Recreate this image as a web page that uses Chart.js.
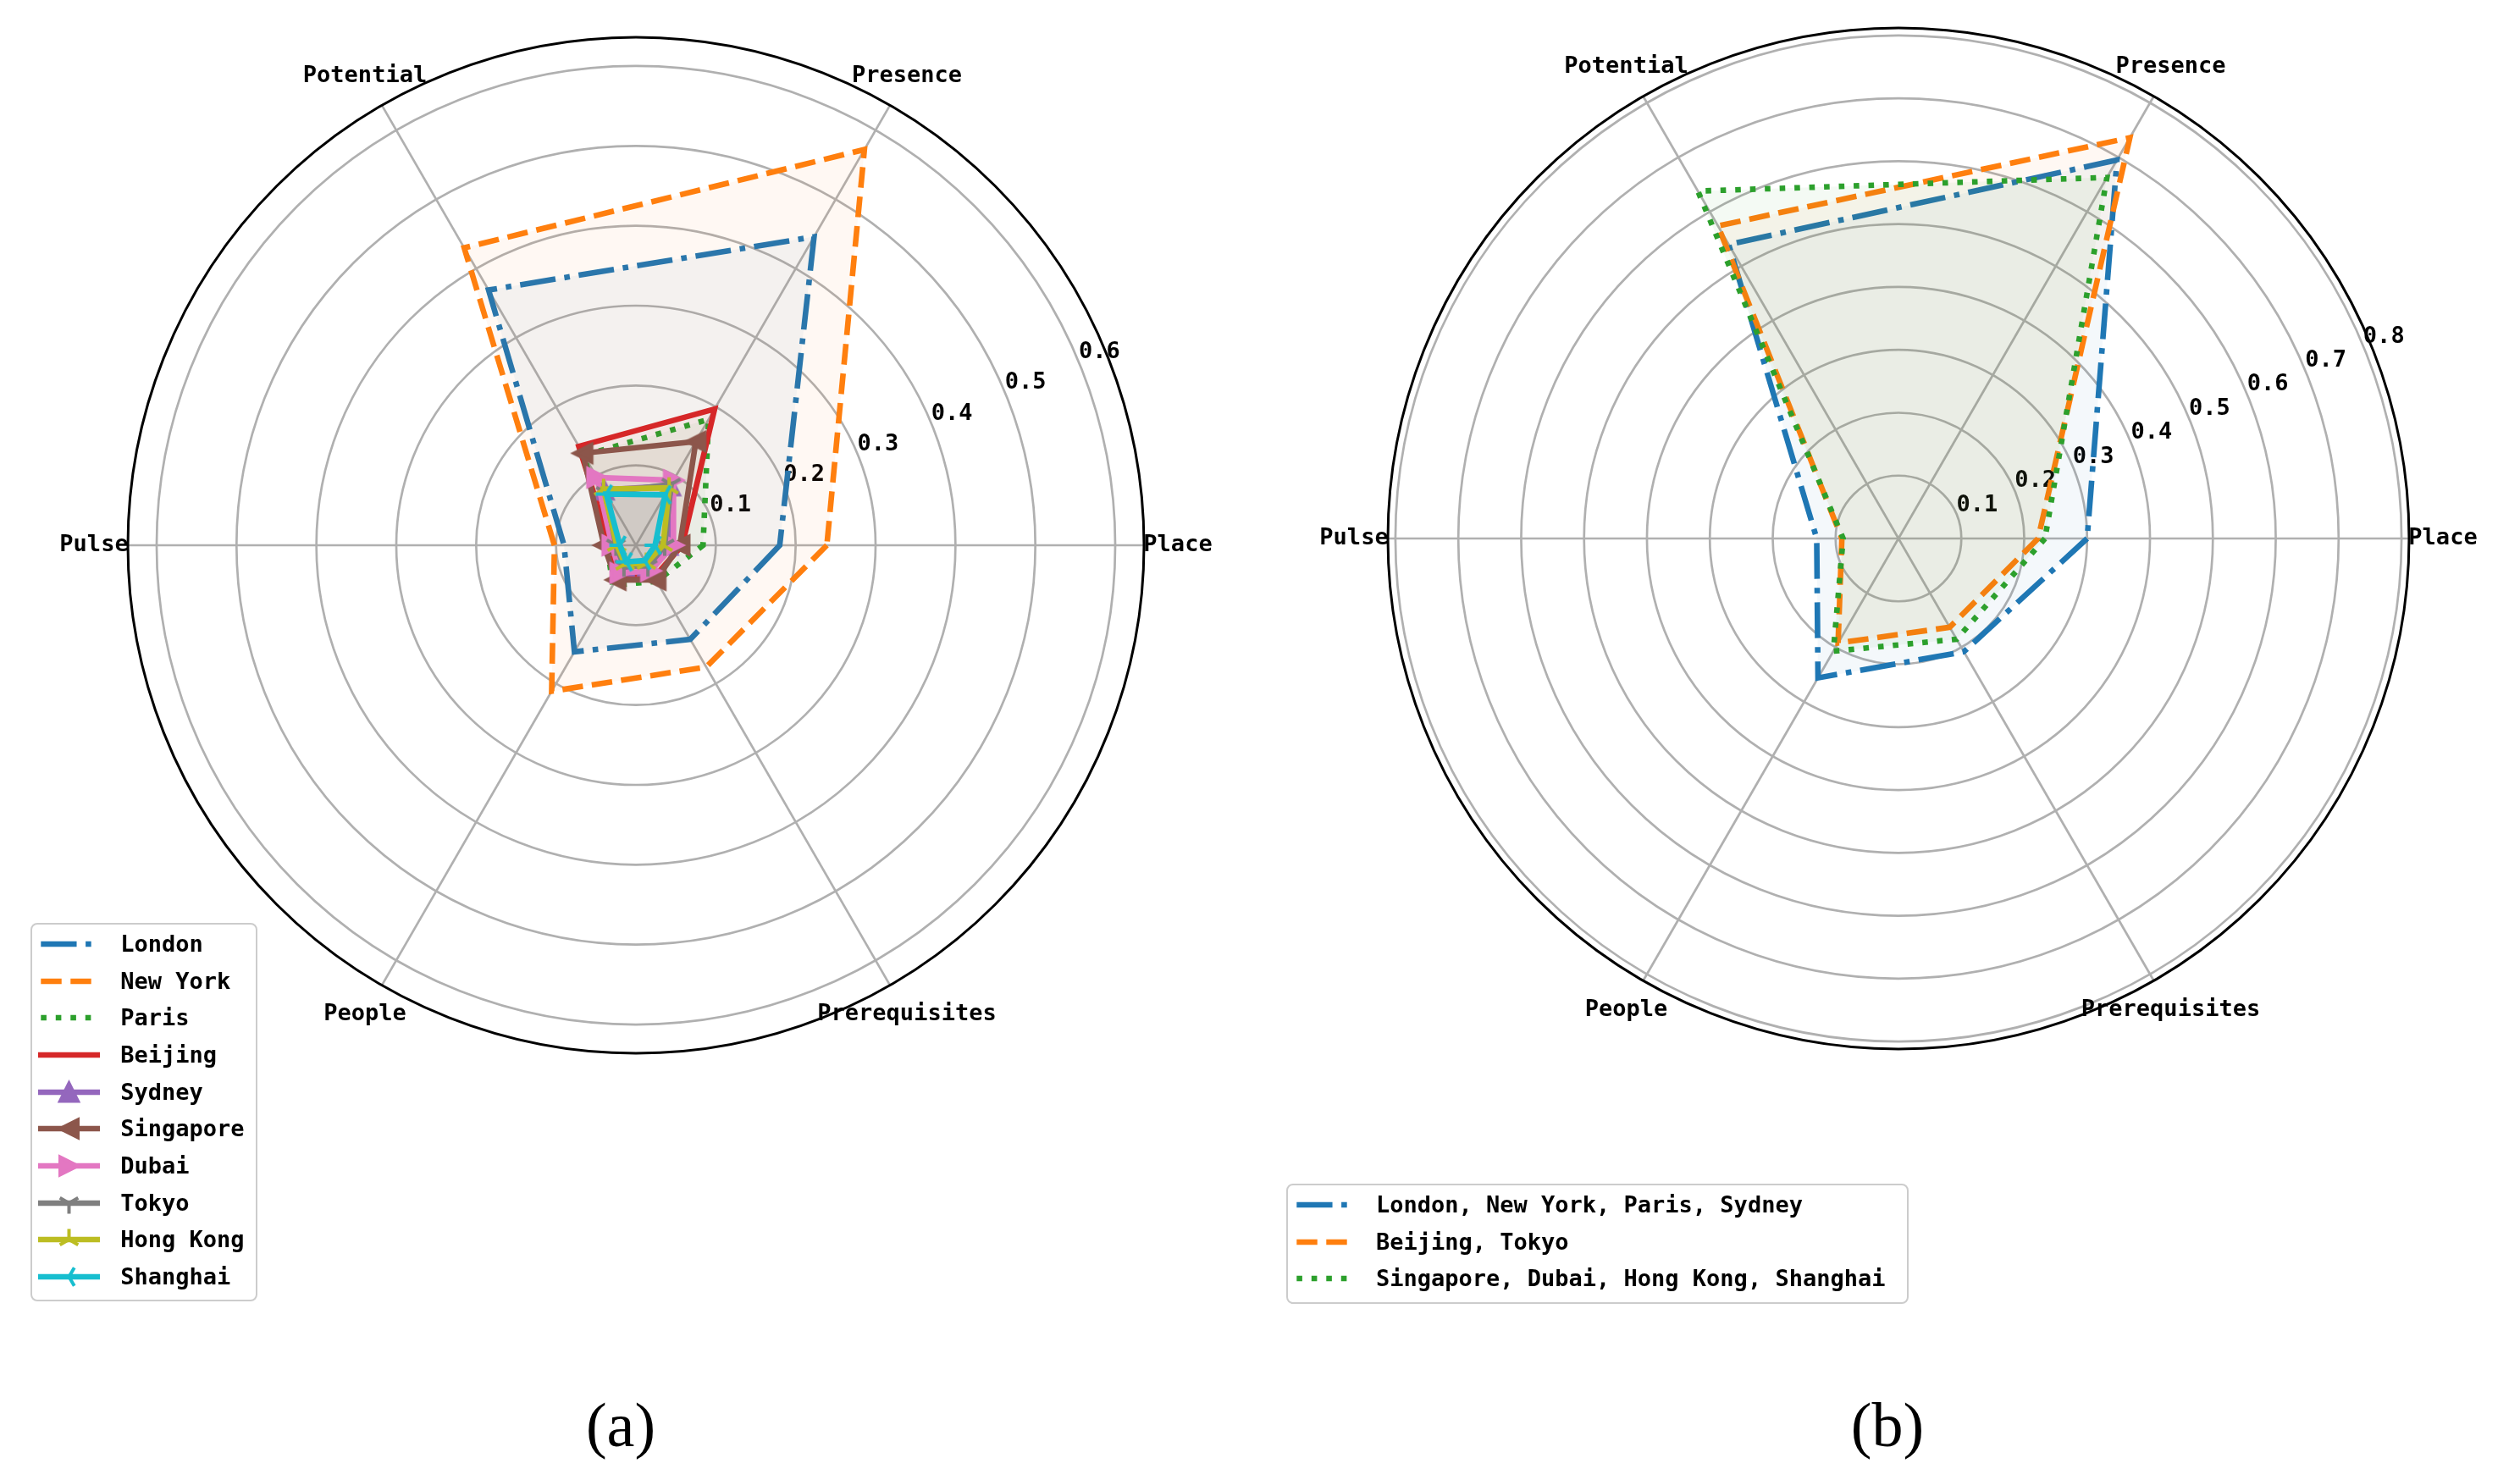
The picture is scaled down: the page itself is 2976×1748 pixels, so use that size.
<!DOCTYPE html>
<html>
<head>
<meta charset="utf-8">
<script src="https://cdn.jsdelivr.net/npm/chart.js@4.4.1/dist/chart.umd.min.js"></script>
<style>
  html, body { margin: 0; padding: 0; background: #fff; }
  #stage { position: relative; width: 2976px; height: 1748px; overflow: hidden; background: #fff; }
  #stage canvas.chart { position: absolute; }
  .legend { position: absolute; box-sizing: border-box; background: rgba(255,255,255,0.8);
            border: 2.7px solid #cccccc; border-radius: 8px; }
  .legend canvas { position: absolute; }
  .legend span { position: absolute; font-family: "DejaVu Sans Mono", monospace; font-size: 27px;
                 font-weight: bold; color: #000; line-height: 34px; white-space: pre; }
  .cap { position: absolute; font-family: "Liberation Serif", "DejaVu Serif", serif; font-size: 74px;
         color: #000; transform: translate(-50%, -50%); line-height: 1; }
</style>
</head>
<body>
<div id="stage">
  <canvas id="chartA" class="chart"></canvas>
  <canvas id="chartB" class="chart"></canvas>
  <div class="cap" style="left:733px; top:1683px;">(a)</div>
  <div class="cap" style="left:2229px; top:1683px;">(b)</div>
</div>
<script>
// ---------------- DATA ----------------
// axis order: Place, Presence, Potential, Pulse, People, Prerequisites
const categories = ['Place', 'Presence', 'Potential', 'Pulse', 'People', 'Prerequisites'];

// (a) individual cities
const citiesA = ['London', 'New York', 'Paris', 'Beijing', 'Sydney', 'Singapore', 'Dubai', 'Tokyo', 'Hong Kong', 'Shanghai'];
const london    = [0.180, 0.446, 0.369, 0.090, 0.154, 0.136];
const newYork   = [0.239, 0.572, 0.430, 0.102, 0.211, 0.176];
const paris     = [0.084, 0.182, 0.130, 0.036, 0.058, 0.052];
const beijing   = [0.058, 0.197, 0.143, 0.032, 0.046, 0.046];
const sydney    = [0.040, 0.086, 0.080, 0.026, 0.030, 0.030];
const singapore = [0.055, 0.150, 0.133, 0.040, 0.050, 0.050];
const dubai     = [0.047, 0.094, 0.098, 0.030, 0.040, 0.037];
const tokyo     = [0.036, 0.088, 0.076, 0.025, 0.030, 0.030];
const hongKong  = [0.034, 0.083, 0.081, 0.024, 0.027, 0.026];
const shanghai  = [0.024, 0.073, 0.074, 0.020, 0.024, 0.022];
const ticksA = [0.1, 0.2, 0.3, 0.4, 0.5, 0.6];
const maxA = 0.636;

// (b) city clusters
const groupsB = ['London, New York, Paris, Sydney', 'Beijing, Tokyo', 'Singapore, Dubai, Hong Kong, Shanghai'];
const group1 = [0.300, 0.695, 0.540, 0.130, 0.256, 0.208];
const group2 = [0.222, 0.736, 0.574, 0.090, 0.192, 0.163];
const group3 = [0.233, 0.663, 0.638, 0.088, 0.207, 0.185];
const ticksB = [0.1, 0.2, 0.3, 0.4, 0.5, 0.6, 0.7, 0.8];
const maxB = 0.812;

const seriesA = [london, newYork, paris, beijing, sydney, singapore, dubai, tokyo, hongKong, shanghai];
const seriesB = [group1, group2, group3];

// ---------------- STYLE ----------------
const LW = 6.6;
const DASHES = {
  dashdot: [6.4 * LW, 1.6 * LW, 1.0 * LW, 1.6 * LW],
  dashed: [3.7 * LW, 1.6 * LW],
  dotted: [1.0 * LW, 1.65 * LW],
  solid: []
};
const stylesA = [
  { color: '#1f77b4', dash: 'dashdot', marker: null },
  { color: '#ff7f0e', dash: 'dashed', marker: null },
  { color: '#2ca02c', dash: 'dotted', marker: null },
  { color: '#d62728', dash: 'solid', marker: null },
  { color: '#9467bd', dash: 'solid', marker: '^' },
  { color: '#8c564b', dash: 'solid', marker: '<' },
  { color: '#e377c2', dash: 'solid', marker: '>' },
  { color: '#7f7f7f', dash: 'solid', marker: '1' },
  { color: '#bcbd22', dash: 'solid', marker: '2' },
  { color: '#17becf', dash: 'solid', marker: '3' }
];
const stylesB = [
  { color: '#1f77b4', dash: 'dashdot', marker: null },
  { color: '#ff7f0e', dash: 'dashed', marker: null },
  { color: '#2ca02c', dash: 'dotted', marker: null }
];

function rgba(hex, a) {
  const n = parseInt(hex.slice(1), 16);
  return `rgba(${(n >> 16) & 255},${(n >> 8) & 255},${n & 255},${a})`;
}

function drawMarker(ctx, type, color, x, y, s) {
  ctx.save();
  ctx.fillStyle = color; ctx.strokeStyle = color; ctx.lineWidth = 4; ctx.lineJoin = 'miter';
  const h = s / 2;
  if (type === '^' || type === '<' || type === '>') {
    ctx.beginPath();
    if (type === '^') { ctx.moveTo(x, y - h); ctx.lineTo(x - h, y + h); ctx.lineTo(x + h, y + h); }
    if (type === '<') { ctx.moveTo(x - h, y); ctx.lineTo(x + h, y - h); ctx.lineTo(x + h, y + h); }
    if (type === '>') { ctx.moveTo(x + h, y); ctx.lineTo(x - h, y - h); ctx.lineTo(x - h, y + h); }
    ctx.closePath(); ctx.fill(); ctx.stroke();
  } else {
    const c = 0.866, sn = 0.5;
    let dirs = [];
    if (type === '1') dirs = [[0, 1], [c, -sn], [-c, -sn]];
    if (type === '2') dirs = [[0, -1], [c, sn], [-c, sn]];
    if (type === '3') dirs = [[-1, 0], [sn, -c], [sn, c]];
    ctx.lineCap = 'butt';
    ctx.beginPath();
    dirs.forEach(d => { ctx.moveTo(x, y); ctx.lineTo(x + d[0] * (h + 2), y + d[1] * (h + 2)); });
    ctx.stroke();
  }
  ctx.restore();
}

function markerCanvas(type, color) {
  const c = document.createElement('canvas');
  c.width = 34; c.height = 34;
  drawMarker(c.getContext('2d'), type, color, 17, 17, 21);
  return c;
}

// Chart.js goes clockwise from startAngle; matplotlib goes counter-clockwise from the right.
const ORDER = [0, 5, 4, 3, 2, 1];
const reorder = arr => ORDER.map(i => arr[i]);

const FONT = 'bold 27px "DejaVu Sans Mono", monospace';

const decor = {
  id: 'decor',
  beforeDatasetsDraw(chart, args, opts) {
    const s = chart.scales.r, ctx = chart.ctx;
    const a = 22.5 * Math.PI / 180;
    ctx.save();
    ctx.font = FONT; ctx.fillStyle = '#000';
    ctx.textAlign = 'left'; ctx.textBaseline = 'alphabetic';
    opts.ticks.forEach(v => {
      const d = s.getDistanceFromCenterForValue(v);
      ctx.fillText(v.toFixed(1), s.xCenter + d * Math.cos(a), s.yCenter - d * Math.sin(a) - 4);
    });
    ctx.restore();
  },
  afterDraw(chart) {
    const s = chart.scales.r, ctx = chart.ctx;
    ctx.save();
    ctx.beginPath();
    ctx.arc(s.xCenter, s.yCenter, s.drawingArea, 0, Math.PI * 2);
    ctx.lineWidth = 3; ctx.strokeStyle = '#000'; ctx.stroke();
    ctx.font = FONT; ctx.fillStyle = '#000';
    ctx.textAlign = 'center'; ctx.textBaseline = 'middle';
    chart.data.labels.forEach((lab, i) => {
      const p = s.getPointPosition(i, s.drawingArea + 40);
      ctx.fillText(lab, p.x, p.y);
    });
    ctx.restore();
  }
};

function makeRadar(id, cx, cy, R, max, names, series, styles, ticks) {
  const P = 110;
  const cv = document.getElementById(id);
  cv.width = 2 * R + 2 * P; cv.height = 2 * R + 2 * P;
  cv.style.left = (cx - R - P) + 'px';
  cv.style.top = (cy - R - P) + 'px';
  const n = series.length;
  const datasets = series.map((vals, i) => {
    const st = styles[i];
    return {
      label: names[i],
      data: reorder(vals),
      borderColor: st.color,
      backgroundColor: rgba(st.color, 0.05),
      borderWidth: LW,
      borderDash: DASHES[st.dash],
      borderJoinStyle: 'miter',
      fill: true,
      tension: 0,
      order: n - i,
      pointStyle: st.marker ? markerCanvas(st.marker, st.color) : 'circle',
      pointRadius: st.marker ? 12 : 0,
      pointHoverRadius: st.marker ? 12 : 0,
      pointBackgroundColor: st.color,
      pointBorderColor: st.color
    };
  });
  return new Chart(cv, {
    type: 'radar',
    data: { labels: reorder(categories), datasets },
    plugins: [decor],
    options: {
      responsive: false,
      animation: false,
      devicePixelRatio: 1,
      events: [],
      layout: { padding: P },
      plugins: { legend: { display: false }, tooltip: { enabled: false }, decor: { ticks } },
      scales: {
        r: {
          min: 0, max: max, startAngle: 90,
          ticks: { display: false, stepSize: 0.1, includeBounds: false },
          grid: { color: '#b0b0b0', lineWidth: 2.7, circular: true },
          angleLines: { color: '#b0b0b0', lineWidth: 2.7 },
          pointLabels: { display: false }
        }
      }
    }
  });
}

makeRadar('chartA', 751, 644, 600, maxA, citiesA, seriesA, stylesA, ticksA);
makeRadar('chartB', 2242, 636, 603, maxB, groupsB, seriesB, stylesB, ticksB);

// ---------------- LEGENDS ----------------
function makeLegend(left, top, width, height, firstRowY, names, styles) {
  const stage = document.getElementById('stage');
  const box = document.createElement('div');
  box.className = 'legend';
  box.style.left = left + 'px'; box.style.top = top + 'px';
  box.style.width = width + 'px'; box.style.height = height + 'px';
  stage.appendChild(box);
  const inner = top + 2.7, innerL = left + 2.7;
  const hx0 = 49.3 - 36, hx1 = 115.7 - 36; // handle relative to box left
  names.forEach((name, i) => {
    const rowY = firstRowY + i * 43.7;
    const cv = document.createElement('canvas');
    cv.width = 110; cv.height = 40;
    cv.style.left = (left + 4 - innerL) + 'px';
    cv.style.top = (rowY - 20 - inner) + 'px';
    box.appendChild(cv);
    const ctx = cv.getContext('2d');
    const st = styles[i];
    ctx.strokeStyle = st.color; ctx.lineWidth = LW;
    ctx.setLineDash(DASHES[st.dash]);
    ctx.lineCap = st.dash === 'solid' ? 'square' : 'butt';
    ctx.beginPath();
    ctx.moveTo(hx0 - 4, 20); ctx.lineTo(hx1 - 4, 20); ctx.stroke();
    ctx.setLineDash([]);
    if (st.marker) drawMarker(ctx, st.marker, st.color, (hx0 + hx1) / 2 - 4, 20, 21);
    const sp = document.createElement('span');
    sp.textContent = name;
    sp.style.left = (left + 107 - innerL) + 'px';
    sp.style.top = (rowY - 17 - inner) + 'px';
    box.appendChild(sp);
  });
}
makeLegend(36, 1090, 268, 447, 1115.5, citiesA, stylesA);
makeLegend(1518.7, 1398, 735.5, 142, 1423.5, groupsB, stylesB);
</script>
</body>
</html>
